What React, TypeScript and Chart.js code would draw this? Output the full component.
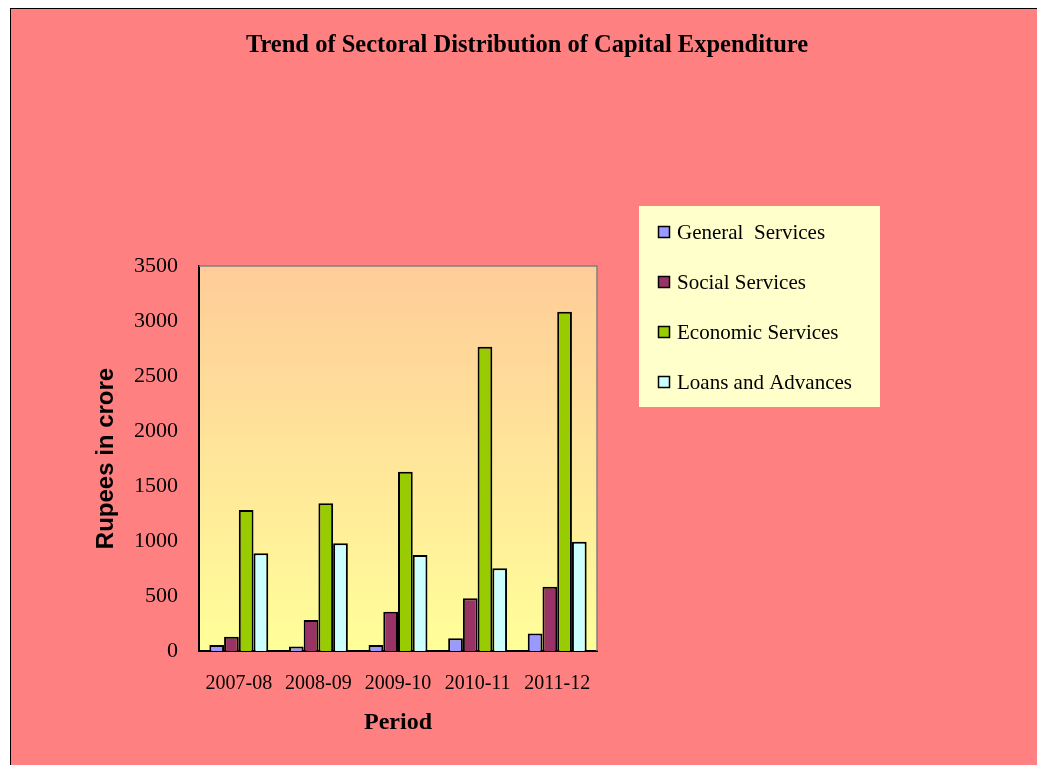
import React, { useEffect, useRef } from "react";
import { Chart, registerables } from "chart.js";

Chart.register(...registerables);

const chartTitle = "Trend of Sectoral Distribution of Capital Expenditure";
const categories = ["2007-08", "2008-09", "2009-10", "2010-11", "2011-12"];
const generalServices = [55, 40, 55, 115, 160];
const socialServices = [130, 282, 357, 479, 585];
const economicServices = [1282, 1343, 1630, 2766, 3085];
const loansAndAdvances = [888, 979, 873, 752, 994];
const seriesLabels = ["General  Services", "Social Services", "Economic Services", "Loans and Advances"];
const seriesColors = ["#9999FF", "#993366", "#99CC00", "#CCFFFF"];
const yMin = 0;
const yMax = 3500;
const yStep = 500;
const yTitle = "Rupees in crore";
const xTitle = "Period";

const W = 1026;
const H = 756;
const SERIF = "'Liberation Serif', 'Times New Roman', serif";
const SANS = "'Liberation Sans', Arial, sans-serif";

const plotBgPlugin = {
  id: "plotBg",
  beforeDraw(chart: any) {
    const { ctx, chartArea: a } = chart;
    const g = ctx.createLinearGradient(0, a.top, 0, a.bottom);
    g.addColorStop(0, "#FFCC99");
    g.addColorStop(1, "#FFFF99");
    ctx.save();
    ctx.fillStyle = g;
    ctx.fillRect(a.left, a.top, a.right - a.left, a.bottom - a.top);
    ctx.restore();
  },
  afterDraw(chart: any) {
    const { ctx, chartArea: a } = chart;
    ctx.save();
    ctx.strokeStyle = "#808080";
    ctx.lineWidth = 1.5;
    ctx.beginPath();
    ctx.moveTo(a.left, a.top);
    ctx.lineTo(a.right, a.top);
    ctx.lineTo(a.right, a.bottom);
    ctx.stroke();
    ctx.restore();
  },
};

const titlePlugin = {
  id: "customTitle",
  afterDraw(chart: any) {
    const { ctx } = chart;
    ctx.save();
    ctx.fillStyle = "#000";
    ctx.font = `bold 24.5px ${SERIF}`;
    ctx.textAlign = "center";
    ctx.textBaseline = "alphabetic";
    ctx.fillText(chartTitle, 516, 43);
    ctx.restore();
  },
};

const legendPlugin = {
  id: "customLegend",
  afterDraw(chart: any) {
    const { ctx } = chart;
    const bx = 628, by = 197, bw = 241, bh = 201;
    ctx.save();
    ctx.fillStyle = "#FFFFCC";
    ctx.fillRect(bx, by, bw, bh);
    chart.data.datasets.forEach((ds: any, i: number) => {
      const y = 217 + i * 50;
      ctx.fillStyle = ds.backgroundColor;
      ctx.fillRect(647, y, 12, 12);
      ctx.strokeStyle = "#000";
      ctx.lineWidth = 1.5;
      ctx.strokeRect(647.5, y + 0.5, 11, 11);
      ctx.fillStyle = "#000";
      ctx.font = `21px ${SERIF}`;
      ctx.textAlign = "left";
      ctx.textBaseline = "alphabetic";
      ctx.fillText(ds.label, 666, y + 13);
    });
    ctx.restore();
  },
};

export default function App() {
  const ref = useRef<HTMLCanvasElement | null>(null);

  useEffect(() => {
    if (!ref.current) return;
    const series = [generalServices, socialServices, economicServices, loansAndAdvances];
    const chart = new Chart(ref.current, {
      type: "bar",
      data: {
        labels: categories,
        datasets: series.map((d, i) => ({
          label: seriesLabels[i],
          data: d,
          backgroundColor: seriesColors[i],
          borderColor: "#000000",
          borderWidth: 2,
          categoryPercentage: 0.74,
          barPercentage: 1,
        })),
      },
      options: {
        responsive: false,
        animation: false,
        layout: { padding: { left: 0, right: 440, top: 257, bottom: 0 } },
        plugins: {
          legend: { display: false },
          title: { display: false },
          tooltip: { enabled: false },
        },
        scales: {
          x: {
            grid: { display: false, drawTicks: false },
            border: { display: true, color: "#000", width: 2 },
            ticks: { color: "#000", font: { family: SERIF, size: 20 }, padding: 20.5 },
            title: {
              display: true,
              text: xTitle,
              color: "#000",
              font: { family: SERIF, size: 24, weight: "bold" },
              padding: { top: 0, bottom: 28 },
            },
            afterFit: (s: any) => {
              s.height = 114;
            },
          },
          y: {
            min: yMin,
            max: yMax,
            grid: { display: false, drawTicks: false },
            border: { display: true, color: "#000", width: 2 },
            ticks: {
              stepSize: yStep,
              color: "#000",
              font: { family: SERIF, size: 22 },
              padding: 21,
              callback: (v: any) => String(v),
            },
            title: {
              display: true,
              text: yTitle,
              color: "#000",
              font: { family: SANS, size: 24, weight: "bold" },
              padding: { top: 80.6, bottom: 0 },
            },
            afterFit: (s: any) => {
              s.width = 188;
            },
          },
        },
      },
      plugins: [plotBgPlugin, titlePlugin, legendPlugin],
    });
    return () => chart.destroy();
  }, []);

  return (
    <div
      style={{
        position: "fixed",
        left: 10,
        top: 8,
        width: W + 1,
        height: H + 1,
        boxSizing: "border-box",
        borderLeft: "1px solid #000",
        borderTop: "1px solid #000",
        background: "#FF8080",
      }}
    >
      <canvas ref={ref} width={W} height={H} style={{ display: "block", width: W, height: H }} />
    </div>
  );
}
